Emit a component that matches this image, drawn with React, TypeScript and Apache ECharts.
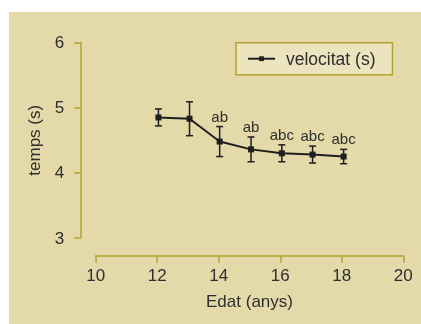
import React, { useEffect, useRef } from "react";
import * as echarts from "echarts";

const ages = [12.04, 13.05, 14.03, 15.05, 16.05, 17.05, 18.06];
const means = [4.85, 4.83, 4.48, 4.36, 4.3, 4.28, 4.25];
const errors = [0.13, 0.26, 0.23, 0.19, 0.13, 0.13, 0.11];
const groupLabels = ["", "", "ab", "ab", "abc", "abc", "abc"];
const xTicks = [10, 12, 14, 16, 18, 20];
const yTicks = [3, 4, 5, 6];

const OLIVE = "#b3a230";
const TEXT = "#2e2e2e";
const FONT = "'Liberation Sans', Arial, sans-serif";

export default function App() {
  const ref = useRef<HTMLDivElement>(null);
  useEffect(() => {
    if (!ref.current) return;
    const chart = echarts.init(ref.current, undefined, { renderer: "svg" });
    const errData = ages.map((a, i) => [a, means[i] - errors[i], means[i] + errors[i], i]);
    chart.setOption({
      animation: false,
      textStyle: { fontFamily: FONT },
      graphic: [
        {
          type: "rect",
          z: -10,
          silent: true,
          shape: { x: 9, y: 12, width: 412, height: 312 },
          style: { fill: "#e3d9a9" },
        },
      ],
      grid: { left: 95.7, right: 17.7, top: 42.5, bottom: 86 },
      legend: {
        left: 236,
        top: 42.7,
        backgroundColor: "#ece4bf",
        borderColor: OLIVE,
        borderWidth: 1.5,
        borderRadius: 0,
        padding: [7, 17, 7, 11],
        itemWidth: 27,
        itemHeight: 6,
        itemGap: 13,
        textStyle: { color: TEXT, fontSize: 17.5, fontFamily: FONT, padding: [0, 0, 0, 6] },
        data: ["velocitat (s)"],
      },
      xAxis: {
        type: "value",
        min: 10,
        max: 20,
        interval: 2,
        offset: 17.7,
        name: "Edat (anys)",
        nameLocation: "middle",
        nameGap: 37,
        nameTextStyle: { color: TEXT, fontSize: 17, fontFamily: FONT },
        axisLine: { show: true, lineStyle: { color: OLIVE, width: 1.5 } },
        axisTick: { show: true, length: 7, lineStyle: { color: OLIVE, width: 1.5 } },
        axisLabel: {
          color: TEXT,
          fontSize: 17,
          fontFamily: FONT,
          margin: 11,
          customValues: xTicks,
        },
        splitLine: { show: false },
      },
      yAxis: {
        type: "value",
        min: 3,
        max: 6,
        interval: 1,
        offset: 15.4,
        name: "temps (s)",
        nameLocation: "middle",
        nameGap: 37,
        nameTextStyle: { color: TEXT, fontSize: 17, fontFamily: FONT },
        axisLine: { show: true, lineStyle: { color: OLIVE, width: 1.5 } },
        axisTick: { show: true, length: 6, lineStyle: { color: OLIVE, width: 1.5 } },
        axisLabel: {
          color: TEXT,
          fontSize: 17,
          fontFamily: FONT,
          margin: 16,
          customValues: yTicks,
        },
        splitLine: { show: false },
      },
      series: [
        {
          name: "velocitat (s)",
          type: "line",
          data: ages.map((a, i) => [a, means[i]]),
          symbol: "rect",
          symbolSize: 6,
          itemStyle: { color: "#1e1e1e" },
          lineStyle: { color: "#1e1e1e", width: 2 },
          z: 3,
        },
        {
          name: "err",
          type: "custom",
          data: errData,
          encode: { x: 0, y: [1, 2] },
          z: 2,
          renderItem: (params: any, api: any) => {
            const x = api.value(0);
            const lo = api.coord([x, api.value(1)]);
            const hi = api.coord([x, api.value(2)]);
            const idx = api.value(3);
            const cap = 3.5;
            const style = { stroke: "#1e1e1e", lineWidth: 1.5 };
            const children: any[] = [
              { type: "line", shape: { x1: lo[0], y1: lo[1], x2: hi[0], y2: hi[1] }, style },
              { type: "line", shape: { x1: lo[0] - cap, y1: lo[1], x2: lo[0] + cap, y2: lo[1] }, style },
              { type: "line", shape: { x1: hi[0] - cap, y1: hi[1], x2: hi[0] + cap, y2: hi[1] }, style },
            ];
            const lab = groupLabels[idx];
            if (lab) {
              children.push({
                type: "text",
                x: hi[0],
                y: hi[1] - 3,
                style: {
                  text: lab,
                  fill: TEXT,
                  fontSize: 15,
                  fontFamily: FONT,
                  align: "center",
                  verticalAlign: "bottom",
                },
              });
            }
            return { type: "group", children };
          },
        },
      ],
    });
    return () => chart.dispose();
  }, []);
  return (
    <div
      ref={ref}
      style={{ position: "fixed", left: 0, top: 0, width: 421, height: 324 }}
    />
  );
}
